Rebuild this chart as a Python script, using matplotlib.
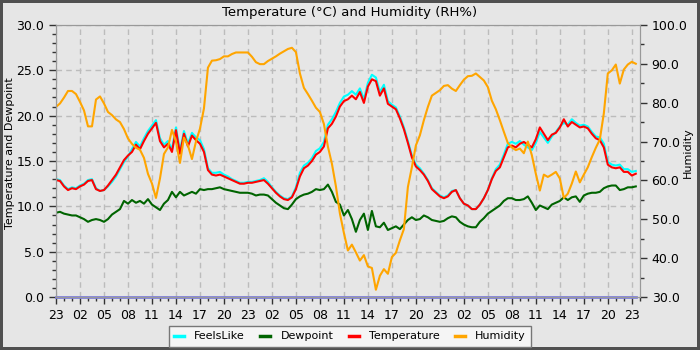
import matplotlib.pyplot as plt
from matplotlib.ticker import MultipleLocator, FormatStrFormatter

# half-hourly samples, hours since 23:00 of the first day
hours = [i * 0.5 for i in range(146)]

temperature = [
    12.9, 12.8, 12.2, 11.8, 12.0, 11.9, 12.2, 12.4, 12.8, 12.9,
    11.9, 11.7, 11.8, 12.3, 12.9, 13.5, 14.3, 15.1, 15.6, 16.0,
    16.8, 16.3, 17.2, 18.0, 18.6, 19.2, 17.2, 16.5, 16.9, 16.0,
    18.4, 15.8, 18.0, 16.6, 17.8, 17.3, 16.9, 16.0, 14.0, 13.5,
    13.4, 13.5, 13.3, 13.1, 12.9, 12.7, 12.5, 12.5, 12.6, 12.6,
    12.7, 12.8, 12.9, 12.5, 12.0, 11.5, 11.1, 10.8, 10.7, 11.0,
    11.9, 13.3, 14.2, 14.5, 15.0, 15.7, 16.0, 16.6, 18.6, 19.1,
    19.9, 21.0, 21.6, 21.8, 22.2, 21.8, 22.6, 21.4, 23.2, 24.0,
    23.8, 22.2, 23.0, 21.3, 21.0, 20.7, 19.7, 18.5, 17.0, 15.4,
    14.4, 14.0, 13.5, 12.8, 11.9, 11.5, 11.1, 10.9, 11.1, 11.6,
    11.8, 10.9, 10.3, 10.1, 9.7, 9.7, 10.2, 10.9, 11.8, 13.0,
    13.9, 14.3, 15.4, 16.5, 16.7, 16.5, 16.9, 17.1, 16.8, 16.5,
    17.4, 18.7, 18.0, 17.3, 17.9, 18.1, 18.7, 19.6, 18.8, 19.3,
    19.0, 18.7, 18.8, 18.6, 18.0, 17.5, 17.3, 16.5, 14.6, 14.3,
    14.2, 14.3, 13.8, 13.8, 13.4, 13.6,
]

feels_like = [
    13.0, 12.9, 12.3, 11.9, 12.1, 12.0, 12.3, 12.5, 12.9, 13.0,
    12.0, 11.7, 11.8, 12.2, 12.7, 13.3, 14.1, 14.9, 15.5, 16.3,
    17.1, 16.6, 17.5, 18.3, 18.9, 19.5, 17.5, 16.8, 17.2, 16.3,
    18.7, 16.1, 18.3, 16.9, 18.1, 17.6, 17.3, 16.3, 14.2, 13.7,
    13.7, 13.8, 13.5, 13.3, 13.0, 12.8, 12.6, 12.6, 12.7, 12.7,
    12.8, 12.9, 13.1, 12.7, 12.1, 11.6, 11.2, 10.9, 10.8, 11.1,
    12.1, 13.7, 14.5, 14.8, 15.3, 16.1, 16.4, 17.1, 19.0, 19.6,
    20.4, 21.4, 22.1, 22.3, 22.7, 22.3, 23.0, 21.8, 23.6, 24.5,
    24.2, 22.6, 23.4, 21.6, 21.2, 20.9, 19.9, 18.7, 17.2, 15.6,
    14.6, 14.2, 13.6, 12.9, 12.0, 11.6, 11.2, 11.0, 11.2, 11.7,
    11.8, 10.9, 10.3, 10.1, 9.7, 9.7, 10.2, 10.9, 11.8, 13.1,
    14.1, 14.6, 15.7, 16.9, 17.1, 16.9, 17.2, 16.8, 16.5, 16.2,
    17.0, 18.2, 17.6, 17.0, 17.7, 18.2, 18.8, 19.2, 19.0, 19.6,
    19.2, 18.9, 19.0, 18.8, 18.2, 17.7, 17.6, 16.9, 14.9, 14.6,
    14.5, 14.6, 14.1, 14.1, 13.8, 13.9,
]

dewpoint = [
    9.3, 9.4, 9.2, 9.1, 9.0, 9.0, 8.8, 8.6, 8.3, 8.5,
    8.6, 8.5, 8.3, 8.6, 9.1, 9.4, 9.7, 10.6, 10.3, 10.7,
    10.4, 10.6, 10.3, 10.8, 10.2, 9.9, 9.6, 10.3, 10.7, 11.6,
    11.0, 11.6, 11.2, 11.4, 11.6, 11.4, 11.9, 11.8, 11.9, 11.9,
    12.0, 12.1, 11.9, 11.8, 11.7, 11.6, 11.5, 11.5, 11.5, 11.4,
    11.2, 11.3, 11.3, 11.2, 10.8, 10.4, 10.1, 9.8, 9.7, 10.2,
    10.8, 11.1, 11.3, 11.4, 11.6, 11.9, 11.8, 11.9, 12.4, 11.6,
    10.5, 10.2, 9.0, 9.6, 8.6, 7.2, 8.5, 9.2, 7.4, 9.5,
    7.8, 7.7, 8.2, 7.4, 7.6, 7.8, 7.5, 8.0, 8.5, 8.8,
    8.5, 8.6, 9.0, 8.8, 8.5, 8.4, 8.3, 8.4, 8.7, 8.9,
    8.8, 8.3, 8.0, 7.8, 7.7, 7.7, 8.3, 8.7, 9.2, 9.5,
    9.8, 10.1, 10.6, 10.9, 10.9, 10.7, 10.7, 10.8, 11.1, 10.4,
    9.6, 10.1, 9.9, 9.7, 10.2, 10.4, 10.6, 11.0, 10.7, 11.0,
    11.1, 10.5, 11.2, 11.4, 11.5, 11.5, 11.6, 12.0, 12.2, 12.3,
    12.3, 11.8, 11.9, 12.1, 12.1, 12.2,
]

humidity = [
    78.9, 79.8, 81.3, 83.0, 83.0, 82.2, 80.2, 78.0, 73.9, 73.9,
    80.8, 81.6, 79.8, 77.6, 76.8, 75.7, 75.0, 73.2, 70.8, 69.4,
    68.4, 67.9, 65.8, 61.7, 59.2, 55.5, 60.5, 66.8, 68.5, 73.0,
    70.0, 64.5, 71.0, 69.0, 65.5, 70.0, 73.3, 78.5, 89.0, 90.8,
    90.9, 91.2, 91.9, 91.9, 92.5, 92.9, 92.9, 92.9, 92.9, 91.8,
    90.4, 89.9, 89.9, 90.7, 91.3, 91.9, 92.6, 93.2, 93.8, 94.1,
    93.0, 87.5, 83.8, 82.2, 80.5, 78.7, 77.6, 74.5, 68.7, 64.3,
    58.5, 51.5, 46.5, 42.0, 43.5, 41.5, 39.4, 40.8, 37.9, 37.5,
    31.9, 35.5, 37.2, 36.0, 40.3, 41.4, 44.6, 47.5, 58.3, 63.4,
    69.0, 71.6, 75.5, 78.9, 81.8, 82.5, 83.2, 84.3, 84.5, 83.6,
    83.0, 84.5, 85.9, 86.8, 86.9, 87.5, 86.6, 85.7, 84.0, 80.5,
    78.3, 75.5, 72.5, 69.6, 68.5, 67.8, 68.2, 67.0, 70.0, 66.5,
    61.7, 57.4, 61.5, 60.9, 61.5, 62.2, 60.5, 55.5, 56.6, 59.2,
    62.3, 59.5, 61.5, 63.4, 66.0, 68.4, 70.5, 77.2, 87.5, 88.3,
    89.8, 84.9, 88.5, 89.8, 90.5, 90.0,
]

# nothing recorded for this series, sits on the bottom axis
baseline = [0.0] * len(hours)

xtick_labels = ['23', '02', '05', '08', '11', '14', '17', '20'] * 3 + ['23']

bg = '#e6e6e6'
fig = plt.figure(figsize=(7, 3.5), dpi=100, facecolor=bg,
                 edgecolor='#505050', linewidth=3)
ax = fig.add_axes([0.08, 0.151, 0.834, 0.778])
ax.set_facecolor(bg)
ax2 = ax.twinx()

ax.plot(hours, baseline, color='#8080e0', lw=2, clip_on=False)
l1, = ax.plot(hours, feels_like, color='#00ffff', lw=1.5, label='FeelsLike')
l2, = ax.plot(hours, dewpoint, color='#006400', lw=1.5, label='Dewpoint')
l3, = ax.plot(hours, temperature, color='#ff0000', lw=1.5, label='Temperature')
l4, = ax2.plot(hours, humidity, color='#ffa500', lw=1.5, label='Humidity')

ax.set_xlim(0, 73)
ax.set_ylim(0, 30)
ax2.set_ylim(30, 100)

ax.set_xticks(range(0, 73, 3))
ax.set_xticklabels(xtick_labels)
ax.xaxis.set_minor_locator(MultipleLocator(1))
ax.yaxis.set_major_locator(MultipleLocator(5))
ax.yaxis.set_minor_locator(MultipleLocator(1))
ax.yaxis.set_major_formatter(FormatStrFormatter('%.1f'))
ax2.yaxis.set_major_locator(MultipleLocator(10))
ax2.yaxis.set_minor_locator(MultipleLocator(5))
ax2.yaxis.set_major_formatter(FormatStrFormatter('%.1f'))

for a in (ax, ax2):
    a.tick_params(which='major', length=5, width=1, color='#333333', labelsize=9)
    a.tick_params(which='minor', length=3, width=1, color='#333333')
    for s in a.spines.values():
        s.set_color('#999999')

ax.grid(True, which='major', linestyle=(0, (4, 3)), color='#bcbcbc', lw=1)
ax.set_axisbelow(True)

ax.set_ylabel('Temperature and Dewpoint', fontsize=8)
ax.yaxis.set_label_coords(-0.07, 0.53)
ax2.set_ylabel('Humidity', fontsize=8)
ax2.yaxis.set_label_coords(1.074, 0.53)
fig.text(0.5, 0.965, 'Temperature (°C) and Humidity (RH%)', ha='center', va='center', fontsize=9.5)

leg = fig.legend(handles=[l1, l2, l3, l4], loc='upper center', bbox_to_anchor=(0.5, 0.069),
                 ncol=4, fontsize=8, frameon=True, fancybox=False, handlelength=0.9,
                 handletextpad=0.9, columnspacing=1.4, borderpad=0.5, borderaxespad=0)
leg.get_frame().set_facecolor('#f5f5f5')
leg.get_frame().set_edgecolor('#777777')
leg.get_frame().set_alpha(1)
for h in leg.get_lines():
    h.set_linewidth(2.5)

fig.savefig('out.png', dpi=100, facecolor=bg, edgecolor=fig.get_edgecolor())
